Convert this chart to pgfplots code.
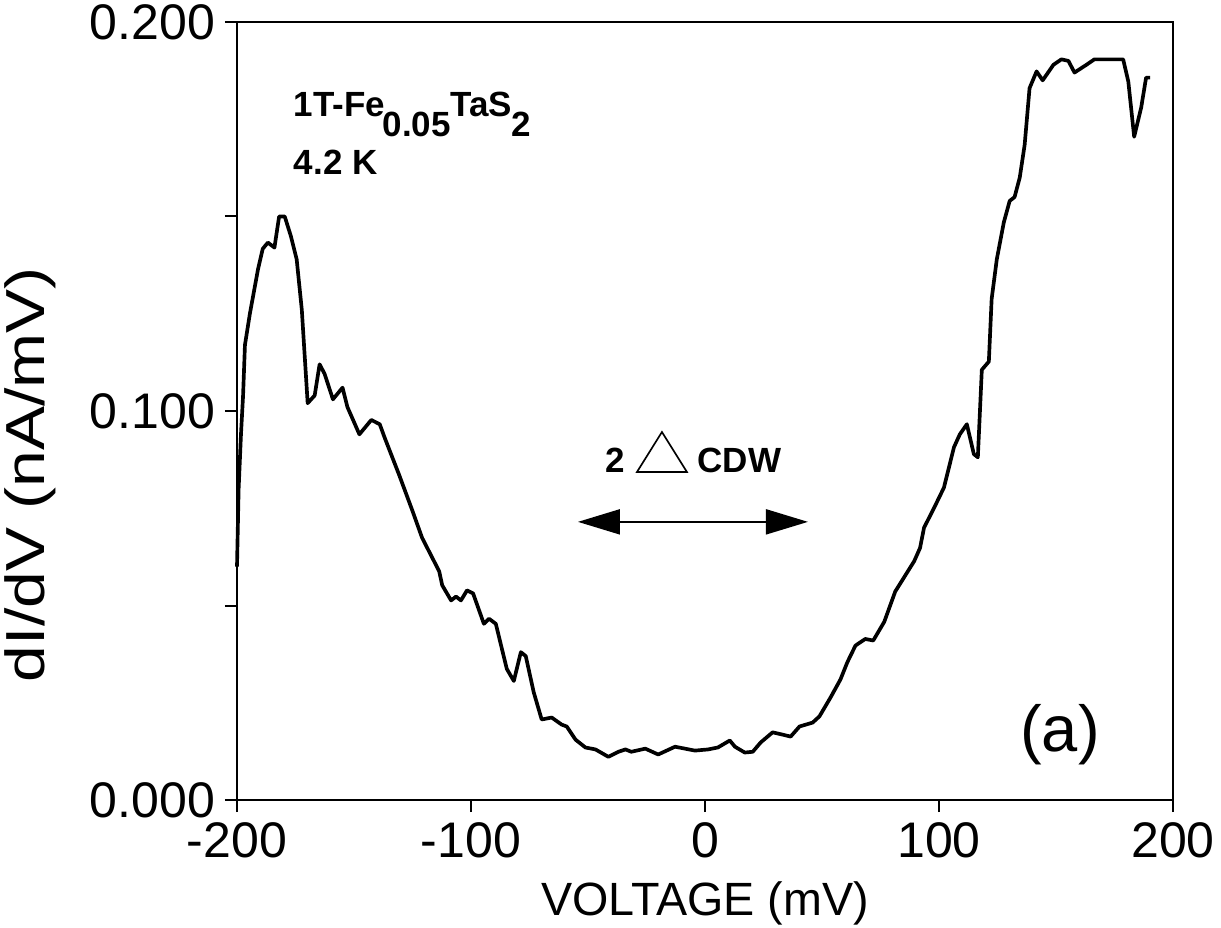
\documentclass[border=0pt]{standalone}
\usepackage{pgfplots}
\pgfplotsset{compat=1.18}
\usepackage{graphicx}
\usepackage{fontspec}
\setmainfont{Liberation Sans}
\usetikzlibrary{arrows.meta}

\pgfplotstableread{
x y
-200 0.060
-199.3 0.080
-198.3 0.094
-197.4 0.104
-196.6 0.117
-194.5 0.125
-191 0.1365
-189 0.1417
-186.8 0.1433
-184 0.142
-182 0.150
-179.6 0.150
-177 0.145
-174.5 0.139
-172.3 0.126
-169.8 0.102
-166.8 0.104
-164.7 0.112
-162.6 0.1096
-159 0.103
-154.9 0.106
-152.8 0.101
-147.7 0.094
-142.6 0.0977
-139 0.0966
-137 0.0933
-130.6 0.0834
-125 0.0743
-120.9 0.0674
-113.6 0.0588
-112.3 0.0552
-108.5 0.0513
-106.4 0.0523
-104.3 0.0513
-101.7 0.0539
-99.1 0.0531
-94.5 0.0453
-92.3 0.0466
-89.4 0.0453
-84.7 0.0337
-81.7 0.0306
-78.7 0.038
-76.6 0.037
-73.2 0.0277
-69.8 0.0207
-65.5 0.0212
-61.3 0.0194
-59.1 0.0189
-55.3 0.0155
-51.1 0.0135
-46.8 0.013
-41.3 0.0111
-37 0.0124
-34 0.013
-31.5 0.0124
-25.5 0.0132
-20 0.0117
-12.8 0.0137
-4.3 0.0127
1.3 0.013
5.5 0.0135
10.6 0.0153
12.8 0.0137
17 0.0122
20.4 0.0124
23.8 0.0148
28.9 0.0174
33.2 0.0168
36.6 0.0163
40.4 0.0189
46 0.0199
48.9 0.0215
53.6 0.0263
57.9 0.031
60.9 0.0355
64.3 0.0397
68.5 0.0414
71.9 0.041
76.6 0.0458
81.3 0.0536
89.4 0.0614
91.9 0.0648
93.6 0.070
97.9 0.0751
102.1 0.0803
106.4 0.0907
108.9 0.094
111.9 0.0966
114.9 0.0889
116.6 0.0881
118.3 0.1106
121.3 0.1127
122.5 0.1288
124.7 0.139
127.7 0.1485
130.2 0.154
132.3 0.155
134.5 0.160
136.6 0.1684
138.7 0.183
141.7 0.1873
144.3 0.185
148.9 0.189
152.3 0.1904
155.3 0.190
157.9 0.187
163 0.189
166.4 0.1904
178.7 0.1904
180.9 0.1847
183.4 0.1705
186.4 0.178
188.5 0.1857
190.2 0.1857
}\didv

\begin{document}
\begin{tikzpicture}
\begin{axis}[
    name=ax,
    scale only axis,
    width=280.8pt, height=233.4pt,
    xmin=-200, xmax=200, ymin=0, ymax=0.2,
    axis line style={line width=0.6pt},
    tick style={black, line width=0.6pt},
    tick align=outside,
    xtick pos=lower, ytick pos=left,
    major tick length=3.6pt, minor tick length=3.6pt,
    xtick={-200,-100,0,100,200},
    xticklabels={-200,-100,0,100,200},
    ytick={0,0.1,0.2},
    yticklabels={0.000,0.100,0.200},
    minor ytick={0.05,0.15},
    /pgf/number format/assume math mode=true,
    ticklabel style={font=\fontsize{15}{15}\selectfont},
    xticklabel style={yshift=0.5pt},
    yticklabel style={xshift=0.5pt},
    xlabel={VOLTAGE (mV)},
    ylabel={\scalebox{1.2}[1]{dI/dV (nA/mV)}},
    xlabel style={font=\fontsize{14}{14}\selectfont, at={(axis description cs:0.5,0)}, anchor=base, yshift=-34.5pt},
    ylabel style={font=\fontsize{16.5}{16.5}\selectfont, at={(axis description cs:-0.221,0.418)}, anchor=center, rotate=0},
    clip=false,
]
\addplot[black, line width=1.1pt, line join=round] table[x=x, y=y] {\didv};

\node[anchor=base west, inner sep=0, font=\fontsize{10.5}{10.5}\selectfont\bfseries]
  at (axis cs:-176,0.1756) {1T-Fe\kern-0.8pt\raisebox{-6pt}{0.05}TaS\kern-0.3pt\raisebox{-6pt}{2}};
\node[anchor=base west, inner sep=0, font=\fontsize{10.5}{10.5}\selectfont\bfseries]
  at (axis cs:-176,0.1607) {4.2 K};

\node[anchor=base west, inner sep=0, font=\fontsize{10.5}{10.5}\selectfont\bfseries]
  at (axis cs:-42.7,0.0843) {2};
\draw[line width=0.5pt, line join=miter] (axis cs:-29.1,0.0843) -- (axis cs:-7.7,0.0843) -- (axis cs:-18.4,0.0946) -- cycle;
\node[anchor=base west, inner sep=0, font=\fontsize{10.5}{10.5}\selectfont\bfseries]
  at (axis cs:-3.4,0.0843) {CDW};
\draw[line width=0.6pt, {Triangle[length=12.6pt,width=7.5pt]}-{Triangle[length=12.6pt,width=7.5pt]}]
  (axis cs:-54.3,0.0715) -- (axis cs:44,0.0715);

\node[inner sep=0, font=\fontsize{19.5}{19.5}\selectfont] at (axis cs:151.7,0.0167) {(a)};
\end{axis}
\pgfresetboundingbox
\path[use as bounding box] ([shift={(-71.1pt,-38.1pt)}]ax.south west) rectangle ([shift={(14.4pt,6.6pt)}]ax.north east);
\end{tikzpicture}
\end{document}
